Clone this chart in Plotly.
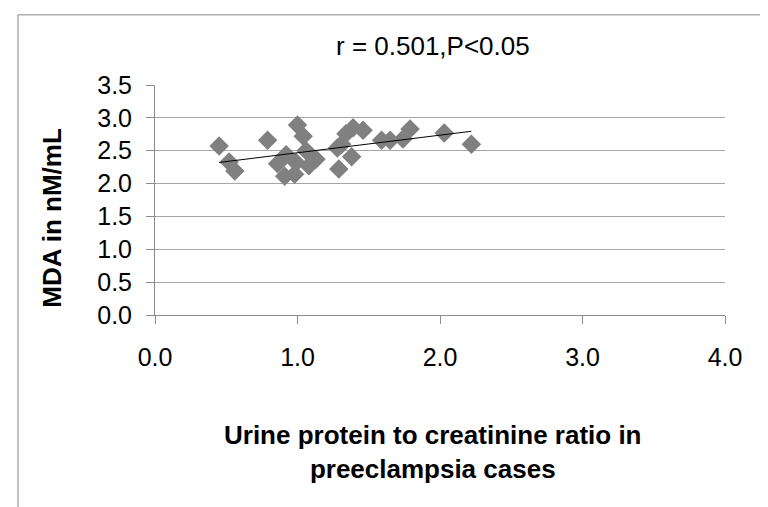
import numpy as np
import plotly.graph_objects as go

# Data
upcr = [0.45, 0.52, 0.56, 0.79, 0.86, 0.91, 0.92, 0.98, 0.99, 1.00, 1.04, 1.06, 1.08, 1.13,
        1.29, 1.28, 1.31, 1.34, 1.38, 1.39, 1.46, 1.59, 1.65, 1.74, 1.79, 2.03, 2.22]
mda = [2.57, 2.33, 2.19, 2.66, 2.30, 2.11, 2.44, 2.14, 2.32, 2.89, 2.72, 2.50, 2.27, 2.37,
       2.22, 2.54, 2.60, 2.76, 2.41, 2.85, 2.81, 2.66, 2.66, 2.68, 2.83, 2.77, 2.60]

x_ticks = [0, 1, 2, 3, 4]
x_tick_labels = ["0.0", "1.0", "2.0", "3.0", "4.0"]
y_ticks = [0, 0.5, 1, 1.5, 2, 2.5, 3, 3.5]
y_tick_labels = ["0.0", "0.5", "1.0", "1.5", "2.0", "2.5", "3.0", "3.5"]

title_text = "r = 0.501,P<0.05"
x_title = "Urine protein to creatinine ratio in<br>preeclampsia cases"
y_title = "MDA in nM/mL"

# Linear trend line fitted from the data
slope, intercept = np.polyfit(upcr, mda, 1)
tx = np.array([min(upcr), max(upcr)])
ty = slope * tx + intercept

FONT = "Liberation Sans, Arial, sans-serif"

fig = go.Figure()
fig.add_trace(go.Scatter(
    x=upcr, y=mda, mode="markers",
    marker=dict(symbol="diamond", size=15, color="#808080", line=dict(width=0)),
    showlegend=False, hoverinfo="x+y",
))
fig.add_trace(go.Scatter(
    x=tx, y=ty, mode="lines",
    line=dict(color="black", width=1),
    showlegend=False, hoverinfo="skip",
))

fig.update_layout(
    width=768, height=507,
    margin=dict(l=147, r=51, t=77, b=200),
    paper_bgcolor="white", plot_bgcolor="white",
    font=dict(family=FONT, size=25, color="black"),
    xaxis=dict(
        range=[0, 4], tickvals=x_ticks, ticktext=x_tick_labels,
        showgrid=False, zeroline=False,
        showline=True, linecolor="#8c8c8c", linewidth=1,
        ticks="outside", ticklen=8, tickcolor="#8c8c8c",
        ticklabelstandoff=12,
        tickfont=dict(family=FONT, size=25, color="black"),
        fixedrange=True,
    ),
    yaxis=dict(
        range=[0, 3.5], tickvals=y_ticks, ticktext=y_tick_labels,
        showgrid=True, gridcolor="#a6a6a6", gridwidth=1, zeroline=False,
        showline=True, linecolor="#8c8c8c", linewidth=1,
        ticks="outside", ticklen=8, tickcolor="#8c8c8c",
        ticklabelstandoff=9,
        tickfont=dict(family=FONT, size=25, color="black"),
        fixedrange=True,
    ),
    shapes=[dict(
        type="rect", xref="paper", yref="paper",
        x0=-0.2404, x1=2.0, y0=-3.0, y1=1.305,
        line=dict(color="#888888", width=1), fillcolor="rgba(0,0,0,0)",
        layer="below",
    )],
    annotations=[
        dict(text=title_text, xref="paper", yref="paper", x=0.488, y=1.170,
             showarrow=False, xanchor="center", yanchor="middle",
             font=dict(family=FONT, size=26, color="black")),
        dict(text="<b>" + x_title + "</b>", xref="paper", yref="paper", x=0.488, y=-0.595,
             showarrow=False, xanchor="center", yanchor="middle",
             font=dict(family=FONT, size=26, color="black")),
        dict(text="<b>" + y_title + "</b>", xref="paper", yref="paper", x=-0.181, y=0.422,
             showarrow=False, xanchor="center", yanchor="middle", textangle=-90,
             font=dict(family=FONT, size=26, color="black")),
    ],
)

fig.write_html("out.html")
